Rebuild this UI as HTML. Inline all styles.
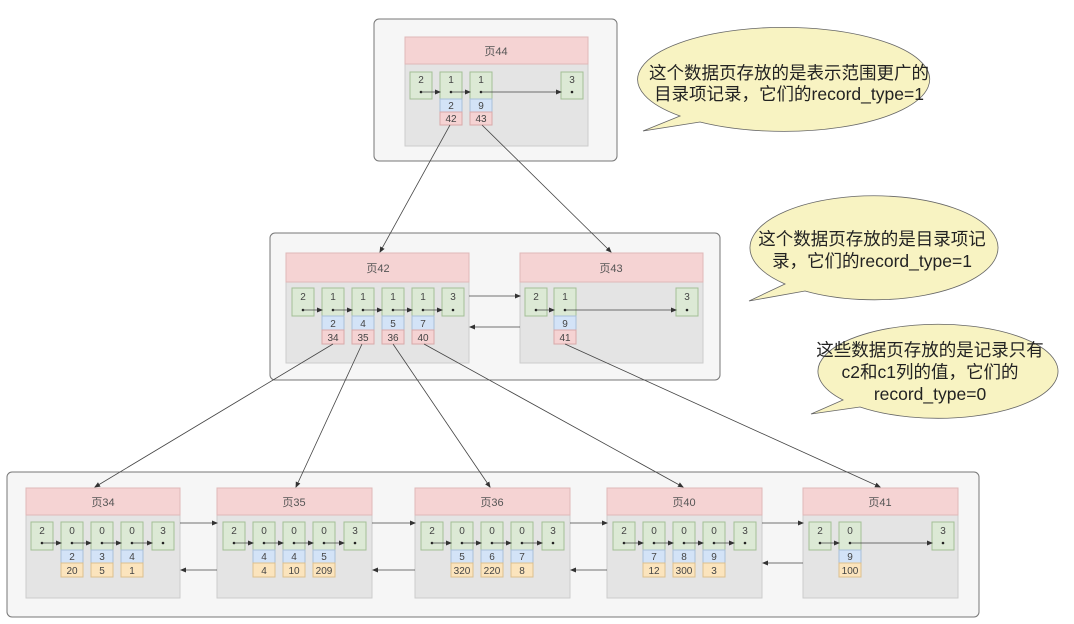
<!DOCTYPE html>
<html><head><meta charset="utf-8"><style>
html,body{margin:0;padding:0;background:#fff;}
svg{display:block;font-family:"Liberation Sans","Noto Sans CJK SC",sans-serif;}
.g{fill:#dce9d5;stroke:#a3bf96;stroke-width:1}
.b{fill:#d3e3f7;stroke:#a9bfd9;stroke-width:1}
.p{fill:#f5d3d3;stroke:#d9a9a9;stroke-width:1}
.o{fill:#fbe4bd;stroke:#dcc08e;stroke-width:1}
.t{font-size:10px;fill:#444;text-anchor:middle}
.h{font-size:11px;fill:#555;text-anchor:middle}
.l{stroke:#444;stroke-width:0.8;fill:none}
.bt{font-size:17.5px;fill:#222;text-anchor:middle}
</style></head><body>
<svg width="1074" height="624" viewBox="0 0 1074 624" xmlns="http://www.w3.org/2000/svg">
<defs><marker id="a" markerWidth="6" markerHeight="6" refX="5" refY="3" orient="auto" markerUnits="userSpaceOnUse"><path d="M0,0.5 L6,3 L0,5.5z" fill="#333"/></marker></defs>
<rect width="1074" height="624" fill="#fff"/>
<rect x="374" y="19" width="243" height="142" rx="5" fill="#f6f6f6" stroke="#777"/>
<rect x="270" y="233" width="450" height="147" rx="5" fill="#f6f6f6" stroke="#777"/>
<rect x="7" y="472" width="972" height="145" rx="5" fill="#f6f6f6" stroke="#777"/>

<rect x="405" y="37" width="183" height="109" fill="#e4e4e4" stroke="#ccc"/>
<rect x="405" y="37" width="183" height="27" fill="#f5d3d3" stroke="#e0b8b8"/>
<text class="h" x="496" y="55">页44</text>
<g>
<rect class="g" x="410" y="72" width="22" height="27"/><text class="t" x="421" y="83">2</text>
<rect class="g" x="440" y="72" width="22" height="27"/><text class="t" x="451" y="83">1</text>
<rect class="b" x="440" y="99" width="22" height="13"/><text class="t" x="451" y="109">2</text>
<rect class="p" x="440" y="112" width="22" height="13"/><text class="t" x="451" y="122">42</text>
<rect class="g" x="470" y="72" width="22" height="27"/><text class="t" x="481" y="83">1</text>
<rect class="b" x="470" y="99" width="22" height="13"/><text class="t" x="481" y="109">9</text>
<rect class="p" x="470" y="112" width="22" height="13"/><text class="t" x="481" y="122">43</text>
<rect class="g" x="561" y="72" width="22" height="27"/><text class="t" x="572" y="83">3</text>
<circle cx="421" cy="92" r="1.3" fill="#222"/><circle cx="451" cy="92" r="1.3" fill="#222"/><circle cx="481" cy="92" r="1.3" fill="#222"/><circle cx="572" cy="92" r="1.3" fill="#222"/>
<line class="l" x1="421" y1="92" x2="440" y2="92" marker-end="url(#a)"/>
<line class="l" x1="451" y1="92" x2="470" y2="92" marker-end="url(#a)"/>
<line class="l" x1="481" y1="92" x2="561" y2="92" marker-end="url(#a)"/>
</g>

<rect x="286" y="253" width="183" height="110" fill="#e4e4e4" stroke="#ccc"/>
<rect x="286" y="253" width="183" height="29" fill="#f5d3d3" stroke="#e0b8b8"/>
<text class="h" x="378" y="272">页42</text>
<rect class="g" x="292" y="288" width="22" height="28"/><text class="t" x="303" y="300">2</text>
<rect class="g" x="322" y="288" width="22" height="28"/><text class="t" x="333" y="300">1</text>
<rect class="b" x="322" y="316" width="22" height="14"/><text class="t" x="333" y="327">2</text>
<rect class="p" x="322" y="330" width="22" height="14"/><text class="t" x="333" y="341">34</text>
<rect class="g" x="352" y="288" width="22" height="28"/><text class="t" x="363" y="300">1</text>
<rect class="b" x="352" y="316" width="22" height="14"/><text class="t" x="363" y="327">4</text>
<rect class="p" x="352" y="330" width="22" height="14"/><text class="t" x="363" y="341">35</text>
<rect class="g" x="382" y="288" width="22" height="28"/><text class="t" x="393" y="300">1</text>
<rect class="b" x="382" y="316" width="22" height="14"/><text class="t" x="393" y="327">5</text>
<rect class="p" x="382" y="330" width="22" height="14"/><text class="t" x="393" y="341">36</text>
<rect class="g" x="412" y="288" width="22" height="28"/><text class="t" x="423" y="300">1</text>
<rect class="b" x="412" y="316" width="22" height="14"/><text class="t" x="423" y="327">7</text>
<rect class="p" x="412" y="330" width="22" height="14"/><text class="t" x="423" y="341">40</text>
<rect class="g" x="442" y="288" width="22" height="28"/><text class="t" x="453" y="300">3</text>
<g fill="#222"><circle cx="303" cy="310" r="1.3"/><circle cx="333" cy="310" r="1.3"/><circle cx="363" cy="310" r="1.3"/><circle cx="393" cy="310" r="1.3"/><circle cx="423" cy="310" r="1.3"/><circle cx="453" cy="310" r="1.3"/></g>
<line class="l" x1="303" y1="310" x2="322" y2="310" marker-end="url(#a)"/>
<line class="l" x1="333" y1="310" x2="352" y2="310" marker-end="url(#a)"/>
<line class="l" x1="363" y1="310" x2="382" y2="310" marker-end="url(#a)"/>
<line class="l" x1="393" y1="310" x2="412" y2="310" marker-end="url(#a)"/>
<line class="l" x1="423" y1="310" x2="442" y2="310" marker-end="url(#a)"/>

<rect x="520" y="253" width="183" height="110" fill="#e4e4e4" stroke="#ccc"/>
<rect x="520" y="253" width="183" height="29" fill="#f5d3d3" stroke="#e0b8b8"/>
<text class="h" x="611" y="272">页43</text>
<rect class="g" x="525" y="288" width="22" height="28"/><text class="t" x="536" y="300">2</text>
<rect class="g" x="554" y="288" width="22" height="28"/><text class="t" x="565" y="300">1</text>
<rect class="b" x="554" y="316" width="22" height="14"/><text class="t" x="565" y="327">9</text>
<rect class="p" x="554" y="330" width="22" height="14"/><text class="t" x="565" y="341">41</text>
<rect class="g" x="676" y="288" width="22" height="28"/><text class="t" x="687" y="300">3</text>
<g fill="#222"><circle cx="536" cy="310" r="1.3"/><circle cx="565" cy="310" r="1.3"/><circle cx="687" cy="310" r="1.3"/></g>
<line class="l" x1="536" y1="310" x2="554" y2="310" marker-end="url(#a)"/>
<line class="l" x1="565" y1="310" x2="676" y2="310" marker-end="url(#a)"/>
<line class="l" x1="469" y1="296" x2="520" y2="296" marker-end="url(#a)"/>
<line class="l" x1="520" y1="327" x2="470" y2="327" marker-end="url(#a)"/>

<g>
<rect x="26" y="488" width="154" height="110" fill="#e4e4e4" stroke="#ccc"/>
<rect x="26" y="488" width="154" height="27" fill="#f5d3d3" stroke="#e0b8b8"/>
<text class="h" x="103" y="506">页34</text>
<rect x="217" y="488" width="155" height="110" fill="#e4e4e4" stroke="#ccc"/>
<rect x="217" y="488" width="155" height="27" fill="#f5d3d3" stroke="#e0b8b8"/>
<text class="h" x="294" y="506">页35</text>
<rect x="415" y="488" width="155" height="110" fill="#e4e4e4" stroke="#ccc"/>
<rect x="415" y="488" width="155" height="27" fill="#f5d3d3" stroke="#e0b8b8"/>
<text class="h" x="492" y="506">页36</text>
<rect x="607" y="488" width="155" height="110" fill="#e4e4e4" stroke="#ccc"/>
<rect x="607" y="488" width="155" height="27" fill="#f5d3d3" stroke="#e0b8b8"/>
<text class="h" x="684" y="506">页40</text>
<rect x="803" y="488" width="155" height="110" fill="#e4e4e4" stroke="#ccc"/>
<rect x="803" y="488" width="155" height="27" fill="#f5d3d3" stroke="#e0b8b8"/>
<text class="h" x="880" y="506">页41</text>
</g>

<rect class="g" x="31" y="522" width="22" height="28"/><text class="t" x="42" y="534">2</text>
<rect class="g" x="61" y="522" width="22" height="28"/><text class="t" x="72" y="534">0</text>
<rect class="b" x="61" y="550" width="22" height="13"/><text class="t" x="72" y="560">2</text>
<rect class="o" x="61" y="563" width="22" height="14"/><text class="t" x="72" y="574">20</text>
<rect class="g" x="91" y="522" width="22" height="28"/><text class="t" x="102" y="534">0</text>
<rect class="b" x="91" y="550" width="22" height="13"/><text class="t" x="102" y="560">3</text>
<rect class="o" x="91" y="563" width="22" height="14"/><text class="t" x="102" y="574">5</text>
<rect class="g" x="121" y="522" width="22" height="28"/><text class="t" x="132" y="534">0</text>
<rect class="b" x="121" y="550" width="22" height="13"/><text class="t" x="132" y="560">4</text>
<rect class="o" x="121" y="563" width="22" height="14"/><text class="t" x="132" y="574">1</text>
<rect class="g" x="152" y="522" width="22" height="28"/><text class="t" x="163" y="534">3</text>
<g fill="#222"><circle cx="42" cy="543" r="1.3"/><circle cx="72" cy="543" r="1.3"/><circle cx="102" cy="543" r="1.3"/><circle cx="132" cy="543" r="1.3"/><circle cx="163" cy="543" r="1.3"/></g>
<line class="l" x1="42" y1="543" x2="61" y2="543" marker-end="url(#a)"/>
<line class="l" x1="72" y1="543" x2="91" y2="543" marker-end="url(#a)"/>
<line class="l" x1="102" y1="543" x2="121" y2="543" marker-end="url(#a)"/>
<line class="l" x1="132" y1="543" x2="152" y2="543" marker-end="url(#a)"/>

<rect class="g" x="223" y="522" width="22" height="28"/><text class="t" x="234" y="534">2</text>
<rect class="g" x="253" y="522" width="22" height="28"/><text class="t" x="264" y="534">0</text>
<rect class="b" x="253" y="550" width="22" height="13"/><text class="t" x="264" y="560">4</text>
<rect class="o" x="253" y="563" width="22" height="14"/><text class="t" x="264" y="574">4</text>
<rect class="g" x="283" y="522" width="22" height="28"/><text class="t" x="294" y="534">0</text>
<rect class="b" x="283" y="550" width="22" height="13"/><text class="t" x="294" y="560">4</text>
<rect class="o" x="283" y="563" width="22" height="14"/><text class="t" x="294" y="574">10</text>
<rect class="g" x="313" y="522" width="22" height="28"/><text class="t" x="324" y="534">0</text>
<rect class="b" x="313" y="550" width="22" height="13"/><text class="t" x="324" y="560">5</text>
<rect class="o" x="313" y="563" width="22" height="14"/><text class="t" x="324" y="574">209</text>
<rect class="g" x="344" y="522" width="22" height="28"/><text class="t" x="355" y="534">3</text>
<g fill="#222"><circle cx="234" cy="543" r="1.3"/><circle cx="264" cy="543" r="1.3"/><circle cx="294" cy="543" r="1.3"/><circle cx="324" cy="543" r="1.3"/><circle cx="355" cy="543" r="1.3"/></g>
<line class="l" x1="234" y1="543" x2="253" y2="543" marker-end="url(#a)"/>
<line class="l" x1="264" y1="543" x2="283" y2="543" marker-end="url(#a)"/>
<line class="l" x1="294" y1="543" x2="313" y2="543" marker-end="url(#a)"/>
<line class="l" x1="324" y1="543" x2="344" y2="543" marker-end="url(#a)"/>

<rect class="g" x="421" y="522" width="22" height="28"/><text class="t" x="432" y="534">2</text>
<rect class="g" x="451" y="522" width="22" height="28"/><text class="t" x="462" y="534">0</text>
<rect class="b" x="451" y="550" width="22" height="13"/><text class="t" x="462" y="560">5</text>
<rect class="o" x="451" y="563" width="22" height="14"/><text class="t" x="462" y="574">320</text>
<rect class="g" x="481" y="522" width="22" height="28"/><text class="t" x="492" y="534">0</text>
<rect class="b" x="481" y="550" width="22" height="13"/><text class="t" x="492" y="560">6</text>
<rect class="o" x="481" y="563" width="22" height="14"/><text class="t" x="492" y="574">220</text>
<rect class="g" x="511" y="522" width="22" height="28"/><text class="t" x="522" y="534">0</text>
<rect class="b" x="511" y="550" width="22" height="13"/><text class="t" x="522" y="560">7</text>
<rect class="o" x="511" y="563" width="22" height="14"/><text class="t" x="522" y="574">8</text>
<rect class="g" x="542" y="522" width="22" height="28"/><text class="t" x="553" y="534">3</text>
<g fill="#222"><circle cx="432" cy="543" r="1.3"/><circle cx="462" cy="543" r="1.3"/><circle cx="492" cy="543" r="1.3"/><circle cx="522" cy="543" r="1.3"/><circle cx="553" cy="543" r="1.3"/></g>
<line class="l" x1="432" y1="543" x2="451" y2="543" marker-end="url(#a)"/>
<line class="l" x1="462" y1="543" x2="481" y2="543" marker-end="url(#a)"/>
<line class="l" x1="492" y1="543" x2="511" y2="543" marker-end="url(#a)"/>
<line class="l" x1="522" y1="543" x2="542" y2="543" marker-end="url(#a)"/>

<rect class="g" x="613" y="522" width="22" height="28"/><text class="t" x="624" y="534">2</text>
<rect class="g" x="643" y="522" width="22" height="28"/><text class="t" x="654" y="534">0</text>
<rect class="b" x="643" y="550" width="22" height="13"/><text class="t" x="654" y="560">7</text>
<rect class="o" x="643" y="563" width="22" height="14"/><text class="t" x="654" y="574">12</text>
<rect class="g" x="673" y="522" width="22" height="28"/><text class="t" x="684" y="534">0</text>
<rect class="b" x="673" y="550" width="22" height="13"/><text class="t" x="684" y="560">8</text>
<rect class="o" x="673" y="563" width="22" height="14"/><text class="t" x="684" y="574">300</text>
<rect class="g" x="703" y="522" width="22" height="28"/><text class="t" x="714" y="534">0</text>
<rect class="b" x="703" y="550" width="22" height="13"/><text class="t" x="714" y="560">9</text>
<rect class="o" x="703" y="563" width="22" height="14"/><text class="t" x="714" y="574">3</text>
<rect class="g" x="734" y="522" width="22" height="28"/><text class="t" x="745" y="534">3</text>
<g fill="#222"><circle cx="624" cy="543" r="1.3"/><circle cx="654" cy="543" r="1.3"/><circle cx="684" cy="543" r="1.3"/><circle cx="714" cy="543" r="1.3"/><circle cx="745" cy="543" r="1.3"/></g>
<line class="l" x1="624" y1="543" x2="643" y2="543" marker-end="url(#a)"/>
<line class="l" x1="654" y1="543" x2="673" y2="543" marker-end="url(#a)"/>
<line class="l" x1="684" y1="543" x2="703" y2="543" marker-end="url(#a)"/>
<line class="l" x1="714" y1="543" x2="734" y2="543" marker-end="url(#a)"/>

<rect class="g" x="809" y="522" width="22" height="28"/><text class="t" x="820" y="534">2</text>
<rect class="g" x="839" y="522" width="22" height="28"/><text class="t" x="850" y="534">0</text>
<rect class="b" x="839" y="550" width="22" height="13"/><text class="t" x="850" y="560">9</text>
<rect class="o" x="839" y="563" width="22" height="14"/><text class="t" x="850" y="574">100</text>
<rect class="g" x="932" y="522" width="22" height="28"/><text class="t" x="943" y="534">3</text>
<g fill="#222"><circle cx="820" cy="543" r="1.3"/><circle cx="850" cy="543" r="1.3"/><circle cx="943" cy="543" r="1.3"/></g>
<line class="l" x1="820" y1="543" x2="839" y2="543" marker-end="url(#a)"/>
<line class="l" x1="850" y1="543" x2="932" y2="543" marker-end="url(#a)"/>

<line class="l" x1="180" y1="523" x2="217" y2="523" marker-end="url(#a)"/>
<line class="l" x1="217" y1="570" x2="181" y2="570" marker-end="url(#a)"/>
<line class="l" x1="372" y1="523" x2="415" y2="523" marker-end="url(#a)"/>
<line class="l" x1="415" y1="570" x2="373" y2="570" marker-end="url(#a)"/>
<line class="l" x1="570" y1="523" x2="607" y2="523" marker-end="url(#a)"/>
<line class="l" x1="607" y1="570" x2="571" y2="570" marker-end="url(#a)"/>
<line class="l" x1="762" y1="523" x2="803" y2="523" marker-end="url(#a)"/>
<line class="l" x1="803" y1="563" x2="763" y2="563" marker-end="url(#a)"/>

<line class="l" x1="450" y1="125" x2="380" y2="252" marker-end="url(#a)"/>
<line class="l" x1="482" y1="125" x2="611" y2="252" marker-end="url(#a)"/>
<line class="l" x1="333" y1="344" x2="95" y2="487" marker-end="url(#a)"/>
<line class="l" x1="362" y1="344" x2="296" y2="487" marker-end="url(#a)"/>
<line class="l" x1="393" y1="344" x2="490" y2="487" marker-end="url(#a)"/>
<line class="l" x1="424" y1="344" x2="683" y2="487" marker-end="url(#a)"/>
<line class="l" x1="565" y1="344" x2="880" y2="487" marker-end="url(#a)"/>

<g fill="#f8f3c2" stroke="#666" stroke-width="0.8">
<path d="M643,131 L680,116 A146,52 0 1 1 700,122 Z"/>
<path d="M749,301 L785,284 A124,52 0 1 1 805,291 Z"/>
<path d="M811,414 L843,400 A120,47 0 1 1 860,407 Z"/>
</g>
<text class="bt" x="789" y="79">这个数据页存放的是表示范围更广的</text>
<text class="bt" x="789" y="100">目录项记录，它们的record_type=1</text>
<text class="bt" x="872" y="245">这个数据页存放的是目录项记</text>
<text class="bt" x="872" y="267">录，它们的record_type=1</text>
<text class="bt" x="930" y="356">这些数据页存放的是记录只有</text>
<text class="bt" x="930" y="378">c2和c1列的值，它们的</text>
<text class="bt" x="930" y="400">record_type=0</text>
</svg>
</body></html>
